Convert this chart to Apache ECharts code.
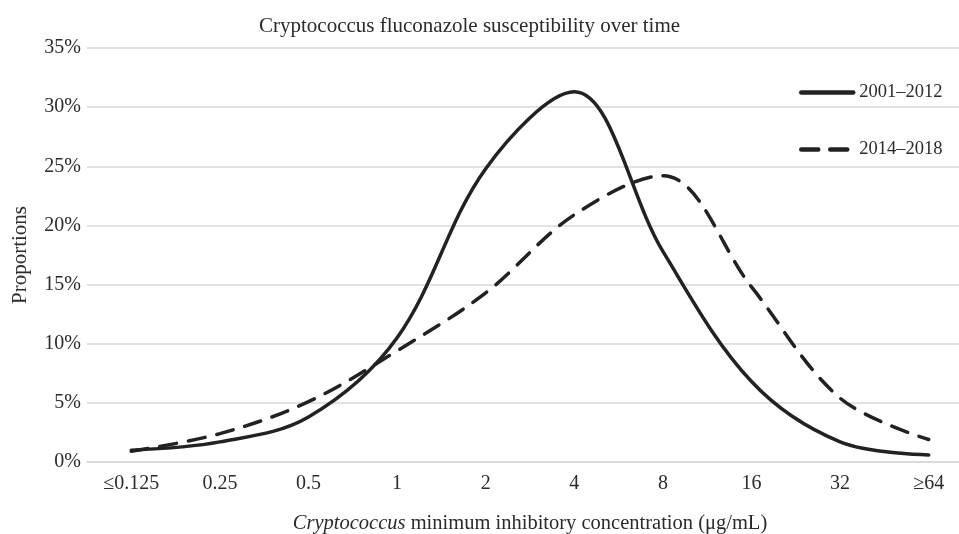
<!DOCTYPE html>
<html>
<head>
<meta charset="utf-8">
<script src="https://cdn.jsdelivr.net/npm/echarts@6/dist/echarts.min.js"></script>
<style>html,body{margin:0;padding:0;background:#fff}#c{width:959px;height:534px}</style>
</head>
<body>
<div id="c"></div>
<script>
var categories = ['≤0.125', '0.25', '0.5', '1', '2', '4', '8', '16', '32', '≥64'];
var series2001 = [1.0, 1.7, 3.8, 10.5, 24.8, 31.3, 17.8, 6.8, 1.7, 0.6];
var series2014 = [0.9, 2.4, 5.1, 9.4, 14.3, 20.9, 24.2, 14.8, 5.4, 1.9];
var yTicks = [0, 5, 10, 15, 20, 25, 30, 35];

var FONT = 'Liberation Serif';
var TXT = '#2b2b2b';
var chart = echarts.init(document.getElementById('c'));
chart.setOption({
  animation: false,
  textStyle: { fontFamily: FONT, color: TXT },
  title: {
    text: 'Cryptococcus fluconazole susceptibility over time',
    left: 254, top: 11,
    textStyle: { fontFamily: FONT, fontSize: 21, fontWeight: 'normal', color: TXT }
  },
  legend: {
    orient: 'vertical',
    left: 799, top: 83, padding: 0,
    itemWidth: 52, itemHeight: 14, itemGap: 38,
    itemStyle: { color: 'rgba(0,0,0,0)', borderWidth: 0, opacity: 0 },
    lineStyle: { width: 4.5, cap: 'round' },
    textStyle: { fontFamily: FONT, fontSize: 18.5, color: TXT, padding: [0, 0, 0, 1] },
    data: ['2001–2012', '2014–2018']
  },
  grid: { left: 87, top: 48, width: 886, height: 414, containLabel: false, outerBoundsMode: 'none' },
  xAxis: {
    type: 'category',
    data: categories,
    boundaryGap: true,
    axisLine: { show: true, lineStyle: { color: '#d9d9d9', width: 1.5 } },
    axisTick: { show: false },
    axisLabel: { fontFamily: FONT, fontSize: 20, color: TXT, margin: 12, interval: 0 },
    name: '{i|Cryptococcus} minimum inhibitory concentration (μg/mL)',
    nameLocation: 'middle',
    nameGap: 51,
    nameTextStyle: {
      fontFamily: FONT, fontSize: 20.5, color: TXT,
      rich: { i: { fontFamily: FONT, fontSize: 20.5, fontStyle: 'italic', color: TXT } }
    }
  },
  yAxis: {
    type: 'value',
    min: 0, max: 35, interval: 5,
    axisLine: { show: false },
    axisTick: { show: false },
    splitLine: { lineStyle: { color: '#d9d9d9', width: 1.5 } },
    axisLabel: {
      fontFamily: FONT, fontSize: 20, color: TXT, margin: 6,
      formatter: function (v) { return yTicks.indexOf(v) >= 0 ? v + '%' : ''; }
    },
    name: 'Proportions',
    nameLocation: 'middle',
    nameGap: 56,
    nameTextStyle: { fontFamily: FONT, fontSize: 21, color: TXT }
  },
  series: [
    {
      name: '2001–2012', type: 'line', data: series2001,
      smooth: 0.35, symbol: 'none',
      lineStyle: { color: '#222', width: 3.5, cap: 'round' },
      itemStyle: { color: '#222' }
    },
    {
      name: '2014–2018', type: 'line', data: series2014,
      smooth: 0.35, symbol: 'none',
      lineStyle: { color: '#222', width: 3.5, type: [17, 12], cap: 'round' },
      itemStyle: { color: '#222' }
    }
  ]
});
</script>
</body>
</html>
